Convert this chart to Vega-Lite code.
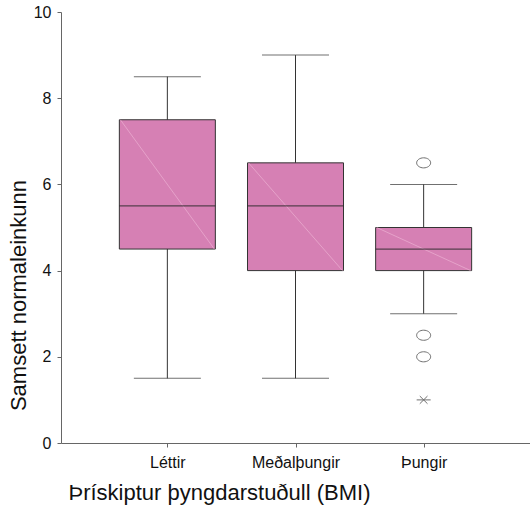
{
  "$schema": "https://vega.github.io/schema/vega-lite/v6.json",
  "width": 469,
  "height": 431,
  "autosize": {"type": "none"},
  "padding": {"left": 61, "top": 12, "right": 0, "bottom": 62},
  "background": "white",
  "config": {
    "view": {"stroke": null},
    "font": "Liberation Sans"
  },
  "datasets": {
    "boxes": [
      {"hop": "Léttir", "lo": 1.5, "q1": 4.5, "med": 5.5, "q3": 7.5, "hi": 8.5},
      {"hop": "Meðalþungir", "lo": 1.5, "q1": 4.0, "med": 5.5, "q3": 6.5, "hi": 9.0},
      {"hop": "Þungir", "lo": 3.0, "q1": 4.0, "med": 4.5, "q3": 5.0, "hi": 6.0}
    ],
    "outliers": [
      {"hop": "Þungir", "value": 6.5, "type": "outlier"},
      {"hop": "Þungir", "value": 2.5, "type": "outlier"},
      {"hop": "Þungir", "value": 2.0, "type": "outlier"},
      {"hop": "Þungir", "value": 1.0, "type": "extreme"}
    ]
  },
  "encoding": {
    "x": {
      "field": "hop",
      "type": "nominal",
      "sort": ["Léttir", "Meðalþungir", "Þungir"],
      "scale": {"type": "point", "padding": 0.83, "domain": ["Léttir", "Meðalþungir", "Þungir"]},
      "axis": {
        "title": "Þrískiptur þyngdarstuðull (BMI)",
        "titleFont": "Liberation Sans",
        "titleFontSize": 22,
        "titleFontWeight": "normal",
        "titleColor": "#111",
        "titleX": 7,
        "titleY": 56,
        "titleAlign": "left",
        "titleBaseline": "alphabetic",
        "labelAngle": 0,
        "labelFontSize": 16,
        "labelColor": "#111",
        "labelPadding": 7,
        "tickSize": 4,
        "tickColor": "#666",
        "domainColor": "#666",
        "grid": false
      }
    }
  },
  "layer": [
    {
      "data": {"name": "boxes"},
      "mark": {"type": "rule", "color": "#333", "strokeWidth": 1},
      "encoding": {
        "y": {
          "field": "lo",
          "type": "quantitative",
          "scale": {"domain": [0, 10], "nice": false, "zero": false},
          "axis": {
            "title": "Samsett normaleinkunn",
            "values": [0, 2, 4, 6, 8, 10],
            "titleFont": "Liberation Sans",
            "titleFontSize": 22,
            "titleFontWeight": "normal",
            "titleColor": "#111",
            "titleX": -31,
            "titleY": 283,
            "titleAlign": "center",
            "titleAngle": 270,
            "titleBaseline": "bottom",
            "labelFontSize": 16,
            "labelColor": "#111",
            "labelPadding": 6,
            "tickSize": 4,
            "tickColor": "#666",
            "domainColor": "#666",
            "grid": false
          }
        },
        "y2": {"field": "hi"}
      }
    },
    {
      "data": {"name": "boxes"},
      "mark": {"type": "tick", "color": "#333", "size": 67, "thickness": 1},
      "encoding": {"y": {"field": "lo", "type": "quantitative"}}
    },
    {
      "data": {"name": "boxes"},
      "mark": {"type": "tick", "color": "#333", "size": 67, "thickness": 1},
      "encoding": {"y": {"field": "hi", "type": "quantitative"}}
    },
    {
      "data": {"name": "boxes"},
      "mark": {"type": "bar", "size": 96, "fill": "#D680B4", "stroke": "#333", "strokeWidth": 1},
      "encoding": {
        "y": {"field": "q1", "type": "quantitative"},
        "y2": {"field": "q3"}
      }
    },
    {
      "data": {"name": "boxes"},
      "mark": {"type": "rule", "color": "#EDB0D3", "strokeWidth": 0.7, "xOffset": -47, "x2Offset": 47},
      "encoding": {
        "x2": {"field": "hop"},
        "y": {"field": "q3", "type": "quantitative"},
        "y2": {"field": "q1"}
      }
    },
    {
      "data": {"name": "boxes"},
      "mark": {"type": "tick", "color": "#222", "size": 96, "thickness": 1.2},
      "encoding": {"y": {"field": "med", "type": "quantitative"}}
    },
    {
      "data": {"name": "outliers"},
      "transform": [{"filter": "datum.type == 'outlier'"}],
      "mark": {"type": "point", "filled": false, "color": "#333", "strokeWidth": 1, "size": 196, "shape": "M -1 0 A 1 0.72 0 1 0 1 0 A 1 0.72 0 1 0 -1 0 Z"},
      "encoding": {"y": {"field": "value", "type": "quantitative"}}
    },
    {
      "data": {"name": "outliers"},
      "transform": [{"filter": "datum.type == 'extreme'"}],
      "mark": {"type": "point", "filled": false, "color": "#333", "strokeWidth": 1, "size": 196, "shape": "M -1 0 L 1 0 M -0.55 -0.55 L 0.55 0.55 M -0.55 0.55 L 0.55 -0.55"},
      "encoding": {"y": {"field": "value", "type": "quantitative"}}
    }
  ]
}
